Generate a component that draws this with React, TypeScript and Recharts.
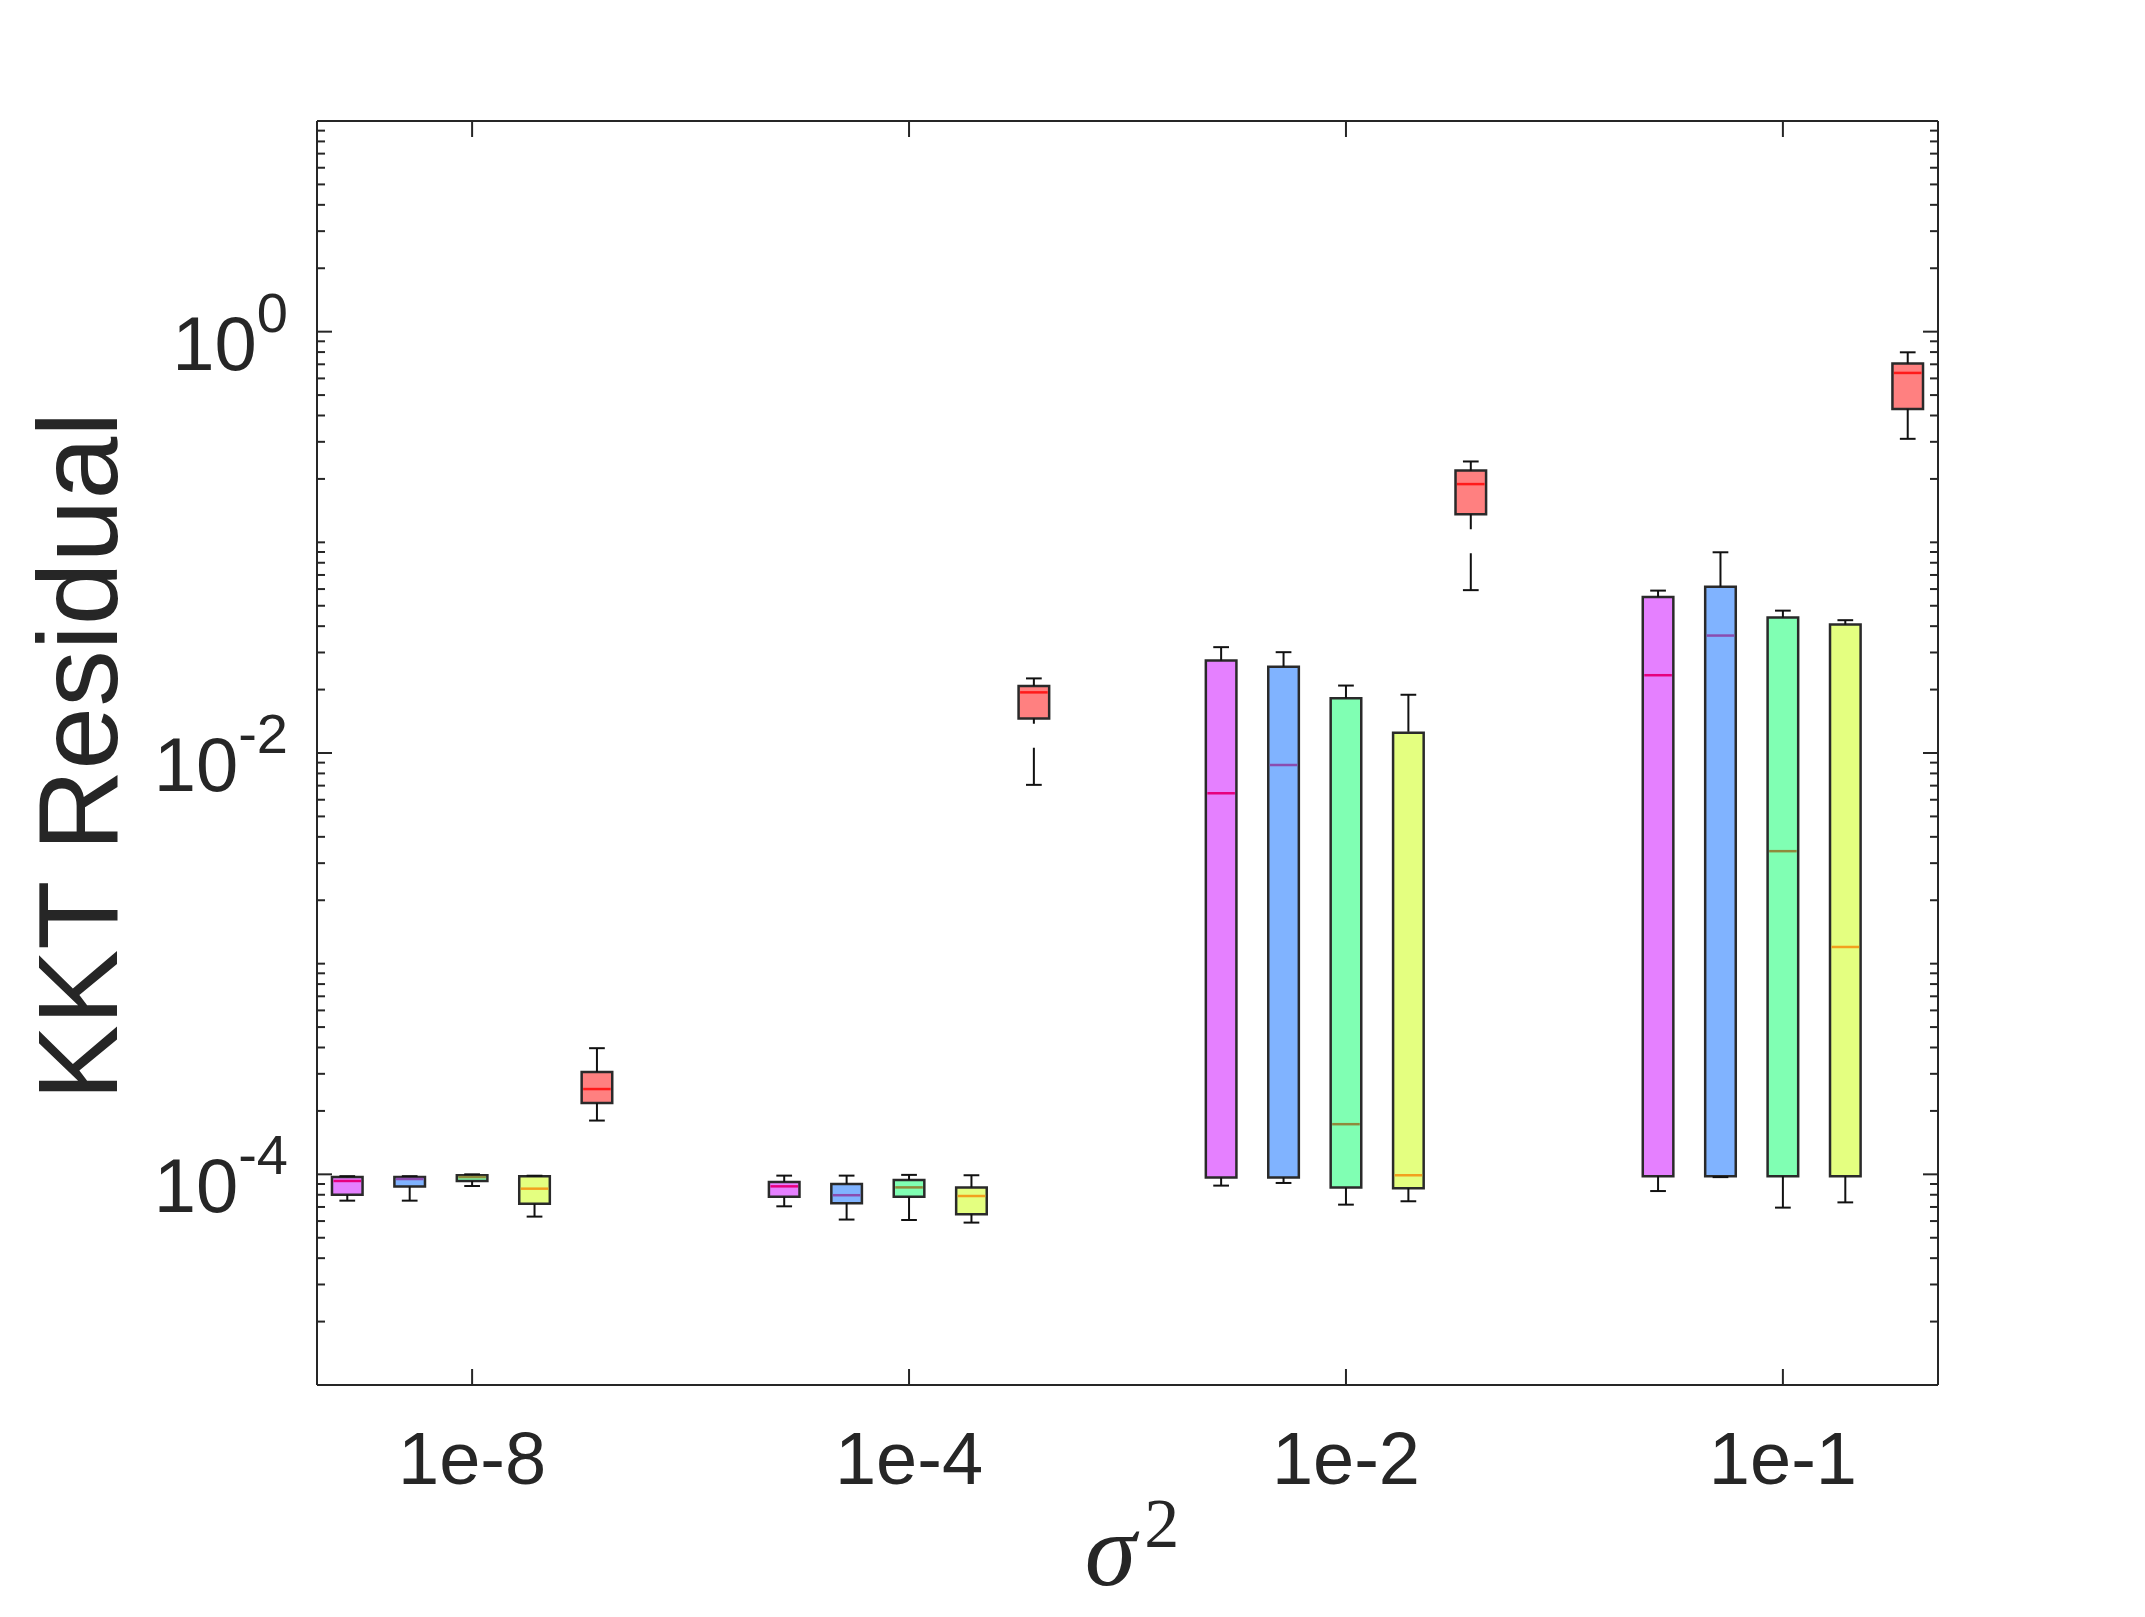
import React from 'react';
import {
  ComposedChart,
  XAxis,
  YAxis,
  ReferenceArea,
  ReferenceLine,
  Scatter,
  Label,
} from 'recharts';

// ---------- data ----------
const categories = ['1e-8', '1e-4', '1e-2', '1e-1'];
const categoryPos = [1, 2, 3, 4];

type Stat = { lo: number; q1: number; med: number; q3: number; hi: number };

const magentaStats: Stat[] = [
  { lo: 7.5e-5, q1: 8.0e-5, med: 9.3e-5, q3: 9.7e-5, hi: 9.8e-5 },
  { lo: 7.05e-5, q1: 7.83e-5, med: 8.77e-5, q3: 9.2e-5, hi: 9.86e-5 },
  { lo: 8.84e-5, q1: 9.65e-5, med: 6.44e-3, q3: 0.0275, hi: 0.0318 },
  { lo: 8.33e-5, q1: 9.8e-5, med: 0.0234, q3: 0.055, hi: 0.059 },
];
const blueStats: Stat[] = [
  { lo: 7.5e-5, q1: 8.75e-5, med: 9.5e-5, q3: 9.7e-5, hi: 9.8e-5 },
  { lo: 6.1e-5, q1: 7.3e-5, med: 7.96e-5, q3: 9.0e-5, hi: 9.86e-5 },
  { lo: 9.1e-5, q1: 9.65e-5, med: 8.77e-3, q3: 0.0257, hi: 0.0301 },
  { lo: 9.7e-5, q1: 9.8e-5, med: 0.0361, q3: 0.0616, hi: 0.0897 },
];
const greenStats: Stat[] = [
  { lo: 8.8e-5, q1: 9.3e-5, med: 9.7e-5, q3: 9.9e-5, hi: 1.0e-4 },
  { lo: 6.07e-5, q1: 7.83e-5, med: 8.67e-5, q3: 9.4e-5, hi: 9.94e-5 },
  { lo: 7.18e-5, q1: 8.65e-5, med: 1.73e-4, q3: 0.0182, hi: 0.0209 },
  { lo: 6.95e-5, q1: 9.8e-5, med: 3.42e-3, q3: 0.044, hi: 0.0474 },
];
const yellowStats: Stat[] = [
  { lo: 6.3e-5, q1: 7.25e-5, med: 8.55e-5, q3: 9.8e-5, hi: 9.85e-5 },
  { lo: 5.9e-5, q1: 6.47e-5, med: 7.89e-5, q3: 8.67e-5, hi: 9.9e-5 },
  { lo: 7.45e-5, q1: 8.58e-5, med: 9.9e-5, q3: 0.01247, hi: 0.0189 },
  { lo: 7.36e-5, q1: 9.8e-5, med: 1.2e-3, q3: 0.0407, hi: 0.0427 },
];
const redStats: Stat[] = [
  { lo: 1.8e-4, q1: 2.18e-4, med: 2.54e-4, q3: 3.06e-4, hi: 3.97e-4 },
  { lo: 7.06e-3, q1: 0.0146, med: 0.0194, q3: 0.0208, hi: 0.0226 },
  { lo: 0.0593, q1: 0.136, med: 0.189, q3: 0.219, hi: 0.242 },
  { lo: 0.31, q1: 0.43, med: 0.637, q3: 0.706, hi: 0.798 },
];

const yMajorTicks = [1, 1e-2, 1e-4];
const yMajorExponents = ['0', '-2', '-4'];

// ---------- styles / layout ----------
const series = [
  { stats: magentaStats, fill: '#E580FF', median: '#E6007E' },
  { stats: blueStats, fill: '#80B3FF', median: '#8A4CB0' },
  { stats: greenStats, fill: '#80FFB3', median: '#8F8A3C' },
  { stats: yellowStats, fill: '#E4FF80', median: '#F2A01E' },
  { stats: redStats, fill: '#FF8080', median: '#FF1A1A' },
];

const CHART_W = 2129;
const CHART_H = 1601;
const PLOT_L = 309;
const PLOT_T = 113;
const PLOT_R = 1930;
const PLOT_B = 1377;
const LEFT_AXIS_W = 200;
const RIGHT_AXIS_W = 10;
const TOP_AXIS_H = 10;
const BOTTOM_AXIS_H = 200;

const X_MIN = 0.645;
const X_MAX = 4.355;
const STEP = 1 / 7;
const BOX_W = 0.07;
const CAP_W = 0.036;
const PX_PER_UNIT = (PLOT_R - PLOT_L) / (X_MAX - X_MIN);
const BOX_PX = BOX_W * PX_PER_UNIT;

const INK = '#262626';
const FONT = '"Liberation Sans", Arial, Helvetica, sans-serif';

// minor log ticks (2..9 x 10^k) plus decades
const yTicks: number[] = [];
for (let k = -5; k <= 0; k++) {
  for (let m = 1; m <= 9; m++) {
    const v = m * Math.pow(10, k);
    if (v > 1e-5 * 1.0001) yTicks.push(v);
  }
}

const majorIndex = (v: number) =>
  yMajorTicks.findIndex((t) => Math.abs(Math.log10(v) - Math.log10(t)) < 1e-6);

const LeftTick = (props: any) => {
  const { x, y, payload } = props;
  const idx = majorIndex(payload.value);
  const len = idx >= 0 ? 15 : 8;
  return (
    <g>
      <line x1={x} x2={x + len} y1={y} y2={y} stroke={INK} strokeWidth={2} />
      {idx >= 0 && (
        <text
          x={x - 29}
          y={y + 38}
          textAnchor="end"
          fill={INK}
          fontFamily={FONT}
          fontSize={76}
        >
          <tspan>10</tspan>
          <tspan fontSize={56} dy={-38}>
            {yMajorExponents[idx]}
          </tspan>
        </text>
      )}
    </g>
  );
};

const RightTick = (props: any) => {
  const { x, y, payload } = props;
  const idx = majorIndex(payload.value);
  const len = idx >= 0 ? 15 : 8;
  return <line x1={x} x2={x - len} y1={y} y2={y} stroke={INK} strokeWidth={2} />;
};

const BottomTick = (props: any) => {
  const { x, y, payload } = props;
  const i = categoryPos.indexOf(payload.value);
  return (
    <g>
      <line x1={x} x2={x} y1={y} y2={y - 16} stroke={INK} strokeWidth={2} />
      <text x={x} y={y + 99} textAnchor="middle" fill={INK} fontFamily={FONT} fontSize={74}>
        {categories[i]}
      </text>
    </g>
  );
};

const TopTick = (props: any) => {
  const { x, y } = props;
  return <line x1={x} x2={x} y1={y} y2={y + 16} stroke={INK} strokeWidth={2} />;
};

const medianPoints = series.flatMap((s, si) =>
  s.stats.map((st, gi) => ({
    x: categoryPos[gi] + (si - 2) * STEP,
    y: st.med,
    color: s.median,
  })),
);

const MedianShape = (props: any) => {
  const { cx, cy, payload } = props;
  return (
    <line
      x1={cx - BOX_PX / 2 + 1.5}
      x2={cx + BOX_PX / 2 - 1.5}
      y1={cy}
      y2={cy}
      stroke={payload.color}
      strokeWidth={2.5}
    />
  );
};

export default function App() {
  const boxes: React.ReactNode[] = [];
  series.forEach((s, si) => {
    s.stats.forEach((st, gi) => {
      const cx = categoryPos[gi] + (si - 2) * STEP;
      const key = `${si}-${gi}`;
      // whiskers: drawn from the cap toward the box (dash pattern starts at the cap)
      boxes.push(
        <ReferenceLine
          key={`wl-${key}`}
          xAxisId="b"
          yAxisId="l"
          segment={[
            { x: cx, y: st.lo },
            { x: cx, y: st.q1 },
          ]}
          stroke="#111"
          strokeWidth={2}
          strokeDasharray="37 24"
          ifOverflow="visible"
        />,
        <ReferenceLine
          key={`wh-${key}`}
          xAxisId="b"
          yAxisId="l"
          segment={[
            { x: cx, y: st.hi },
            { x: cx, y: st.q3 },
          ]}
          stroke="#111"
          strokeWidth={2}
          strokeDasharray="37 24"
          ifOverflow="visible"
        />,
        <ReferenceLine
          key={`cl-${key}`}
          xAxisId="b"
          yAxisId="l"
          segment={[
            { x: cx - CAP_W / 2, y: st.lo },
            { x: cx + CAP_W / 2, y: st.lo },
          ]}
          stroke="#111"
          strokeWidth={2}
          ifOverflow="visible"
        />,
        <ReferenceLine
          key={`ch-${key}`}
          xAxisId="b"
          yAxisId="l"
          segment={[
            { x: cx - CAP_W / 2, y: st.hi },
            { x: cx + CAP_W / 2, y: st.hi },
          ]}
          stroke="#111"
          strokeWidth={2}
          ifOverflow="visible"
        />,
        <ReferenceArea
          key={`bx-${key}`}
          xAxisId="b"
          yAxisId="l"
          x1={cx - BOX_W / 2}
          x2={cx + BOX_W / 2}
          y1={st.q1}
          y2={st.q3}
          fill={s.fill}
          fillOpacity={1}
          stroke="#2a2a2a"
          strokeWidth={2.5}
          ifOverflow="visible"
        />,
      );
    });
  });

  return (
    <div style={{ width: CHART_W, height: CHART_H }}>
      <ComposedChart
        width={CHART_W}
        height={CHART_H}
        data={medianPoints}
        margin={{
          top: PLOT_T - TOP_AXIS_H,
          left: PLOT_L - LEFT_AXIS_W,
          right: CHART_W - PLOT_R - RIGHT_AXIS_W,
          bottom: CHART_H - PLOT_B - BOTTOM_AXIS_H,
        }}
      >
        <XAxis
          xAxisId="b"
          dataKey="x"
          type="number"
          orientation="bottom"
          domain={[X_MIN, X_MAX]}
          allowDataOverflow
          ticks={categoryPos}
          interval={0}
          height={BOTTOM_AXIS_H}
          tickSize={0}
          tickMargin={0}
          tickLine={false}
          tick={<BottomTick />}
          axisLine={{ stroke: INK, strokeWidth: 2 }}
        >
          <Label
            content={() => (
              <text
                x={1124}
                y={1577}
                textAnchor="middle"
                fill={INK}
                fontFamily='"Liberation Serif", "Times New Roman", serif'
              >
                <tspan fontStyle="italic" fontSize={104}>
                  σ
                </tspan>
                <tspan fontSize={70} dy={-38} dx={8}>
                  2
                </tspan>
              </text>
            )}
          />
        </XAxis>
        <XAxis
          xAxisId="t"
          dataKey="x"
          type="number"
          orientation="top"
          domain={[X_MIN, X_MAX]}
          allowDataOverflow
          ticks={categoryPos}
          interval={0}
          height={TOP_AXIS_H}
          tickSize={0}
          tickMargin={0}
          tickLine={false}
          tick={<TopTick />}
          axisLine={{ stroke: INK, strokeWidth: 2 }}
        />
        <YAxis
          yAxisId="l"
          dataKey="y"
          type="number"
          scale="log"
          orientation="left"
          domain={[1e-5, 10]}
          allowDataOverflow
          ticks={yTicks}
          interval={0}
          width={LEFT_AXIS_W}
          tickSize={0}
          tickMargin={0}
          tickLine={false}
          tick={<LeftTick />}
          axisLine={{ stroke: INK, strokeWidth: 2 }}
        >
          <Label
            content={() => (
              <text
                x={109}
                y={748}
                transform="rotate(-90 109 748)"
                textAnchor="middle"
                fill={INK}
                fontFamily={FONT}
                fontSize={113}
              >
                KKT Residual
              </text>
            )}
          />
        </YAxis>
        <YAxis
          yAxisId="r"
          dataKey="y"
          type="number"
          scale="log"
          orientation="right"
          domain={[1e-5, 10]}
          allowDataOverflow
          ticks={yTicks}
          interval={0}
          width={RIGHT_AXIS_W}
          tickSize={0}
          tickMargin={0}
          tickLine={false}
          tick={<RightTick />}
          axisLine={{ stroke: INK, strokeWidth: 2 }}
        />
        {boxes}
        <Scatter
          xAxisId="b"
          yAxisId="l"
          data={medianPoints}
          dataKey="y"
          shape={<MedianShape />}
          isAnimationActive={false}
        />
      </ComposedChart>
    </div>
  );
}
